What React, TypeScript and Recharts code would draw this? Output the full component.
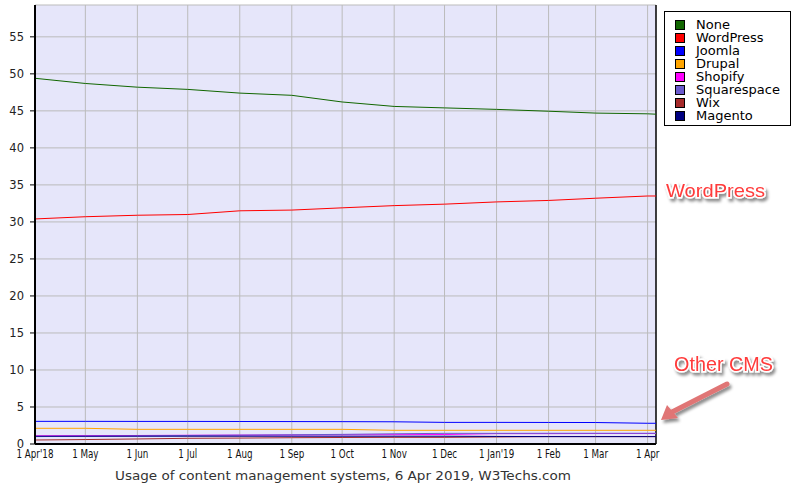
import React from 'react';
import { LineChart, Line, XAxis, YAxis, CartesianGrid, Legend, ReferenceLine } from 'recharts';

// days since 1 Apr 2018 (monthly samples + 6 Apr 2019)
const days = [0, 30, 61, 91, 122, 153, 183, 214, 244, 275, 306, 334, 365, 370];

const tickDays = [0, 30, 61, 91, 122, 153, 183, 214, 244, 275, 306, 334, 365];
const tickLabels = ["1 Apr'18", '1 May', '1 Jun', '1 Jul', '1 Aug', '1 Sep', '1 Oct', '1 Nov', '1 Dec', "1 Jan'19", '1 Feb', '1 Mar', '1 Apr'];
const yTicks = [0, 5, 10, 15, 20, 25, 30, 35, 40, 45, 50, 55];

const none = [49.4, 48.7, 48.2, 47.9, 47.4, 47.1, 46.2, 45.6, 45.4, 45.2, 44.95, 44.7, 44.6, 44.55];
const wordpress = [30.4, 30.7, 30.9, 31.0, 31.5, 31.6, 31.9, 32.2, 32.4, 32.7, 32.9, 33.2, 33.5, 33.5];
const joomla = [3.06, 3.06, 3.05, 3.05, 3.04, 3.03, 3.02, 3.0, 2.92, 2.92, 2.91, 2.9, 2.8, 2.8];
const drupal = [2.12, 2.12, 1.98, 1.98, 1.98, 1.98, 1.98, 1.85, 1.85, 1.85, 1.85, 1.85, 1.85, 1.85];
const shopify = [1.1, 1.12, 1.15, 1.18, 1.2, 1.22, 1.24, 1.26, 1.28, 1.4, 1.4, 1.42, 1.42, 1.42];
const squarespace = [1.0, 1.05, 1.1, 1.15, 1.2, 1.25, 1.3, 1.38, 1.44, 1.44, 1.45, 1.45, 1.45, 1.45];
const wix = [0.54, 0.6, 0.68, 0.77, 0.8, 0.85, 0.88, 0.9, 0.9, 0.95, 1.0, 1.0, 1.0, 1.0];
const magento = [1.05, 1.05, 1.05, 1.05, 1.05, 1.05, 1.05, 1.05, 1.05, 1.02, 1.0, 1.0, 1.0, 1.0];

const series = [
  { name: 'None', values: none, color: '#116600' },
  { name: 'WordPress', values: wordpress, color: '#ff0000' },
  { name: 'Joomla', values: joomla, color: '#0000ff' },
  { name: 'Drupal', values: drupal, color: '#ffa500' },
  { name: 'Shopify', values: shopify, color: '#ff00ff' },
  { name: 'Squarespace', values: squarespace, color: '#6a5acd' },
  { name: 'Wix', values: wix, color: '#a52a2a' },
  { name: 'Magento', values: magento, color: '#000080' },
];

const data = days.map((day, i) => {
  const row: Record<string, number> = { day };
  series.forEach((s) => {
    row[s.name] = s.values[i];
  });
  return row;
});

const font = '"DejaVu Sans", Verdana, sans-serif';

const XTick = (props: any) => {
  const { x, y, payload } = props;
  const idx = tickDays.indexOf(payload.value);
  return (
    <g transform={`translate(${x},${y}) scale(0.7,1)`}>
      <text x={0} y={3} dy="0.71em" textAnchor="middle" fontSize={12.5} fontFamily={font} fill="#111">
        {tickLabels[idx]}
      </text>
    </g>
  );
};

// vertical grid lines at the month ticks, through the x axis scale
const verticalAtTicks = (props: any) => {
  const scale = props?.xAxis?.scale;
  if (typeof scale === 'function') return tickDays.map((d) => scale(d));
  if (scale && typeof scale.map === 'function') return tickDays.map((d) => scale.map(d));
  return [];
};

const LegendBox = () => (
  <div
    style={{
      boxSizing: 'border-box',
      width: 127,
      height: 115,
      border: '1px solid #000',
      background: '#fff',
      padding: '6px 0 0 10px',
      fontFamily: font,
      fontSize: 13,
      color: '#000',
    }}
  >
    {series.map((s) => (
      <div key={s.name} style={{ display: 'flex', alignItems: 'center', height: 13 }}>
        <span
          style={{
            boxSizing: 'border-box',
            width: 10,
            height: 10,
            border: '1px solid #000',
            background: s.color,
            marginRight: 11,
          }}
        />
        <span style={{ lineHeight: '13px' }}>{s.name}</span>
      </div>
    ))}
  </div>
);

const App = () => {
  return (
    <div style={{ position: 'absolute', left: 0, top: 0, width: 803, height: 490, background: '#fff' }}>
      <LineChart width={803} height={490} data={data} margin={{ top: 5, right: 147, bottom: 26, left: 0 }}>
        <CartesianGrid
          stroke="#bbbbbb"
          strokeWidth={1}
          fill="#e6e6fa"
          fillOpacity={1}
          verticalCoordinatesGenerator={verticalAtTicks}
        />
        <XAxis
          dataKey="day"
          type="number"
          domain={[0, 370]}
          ticks={tickDays}
          tick={<XTick />}
          tickLine={false}
          tickSize={0}
          height={20}
          axisLine={{ stroke: '#000', strokeWidth: 2 }}
          interval={0}
        />
        <YAxis
          type="number"
          domain={[0, 59.3]}
          ticks={yTicks}
          width={35}
          tickSize={5}
          tickMargin={6}
          interval={0}
          axisLine={{ stroke: '#000', strokeWidth: 2 }}
          tickLine={{ stroke: '#000' }}
          tick={{ fontSize: 11.5, fontFamily: font, fill: '#222' }}
        />
        <ReferenceLine x={370} stroke="#000" strokeWidth={1.5} />
        {series.map((s) => (
          <Line
            key={s.name}
            type="linear"
            dataKey={s.name}
            stroke={s.color}
            strokeWidth={1}
            dot={false}
            isAnimationActive={false}
          />
        ))}
        <Legend
          layout="vertical"
          align="center"
          verticalAlign="middle"
          content={<LegendBox />}
          wrapperStyle={{ left: 664, top: 11, width: 127, height: 115 }}
        />
      </LineChart>
      <svg
        width={803}
        height={490}
        style={{ position: 'absolute', left: 0, top: 0, pointerEvents: 'none' }}
      >
        <defs>
          <filter id="shadow" x="-20%" y="-40%" width="140%" height="180%">
            <feDropShadow dx="2" dy="3" stdDeviation="1.5" floodColor="#000" floodOpacity="0.45" />
          </filter>
        </defs>
        <text
          x={343}
          y={480}
          textAnchor="middle"
          fontFamily={font}
          fontSize={13}
          fill="#333"
          textLength={456}
          lengthAdjust="spacingAndGlyphs"
        >
          Usage of content management systems, 6 Apr 2019, W3Techs.com
        </text>
        <g filter="url(#shadow)" fontFamily='"Liberation Sans", Arial, sans-serif'>
          <text
            x={666}
            y={197}
            fontSize={19}
            fill="#ff3b3b"
            stroke="#fff"
            strokeWidth={3}
            paintOrder="stroke"
            textLength={99}
            lengthAdjust="spacingAndGlyphs"
          >
            WordPress
          </text>
          <text
            x={674}
            y={371}
            fontSize={20}
            fill="#ff3b3b"
            stroke="#fff"
            strokeWidth={3}
            paintOrder="stroke"
            textLength={99}
            lengthAdjust="spacingAndGlyphs"
          >
            Other CMS
          </text>
          <line x1={727} y1={384} x2={672} y2={412} stroke="#e07575" strokeWidth={5} strokeLinecap="round" />
          <polygon points="661,420 667,405 678,418" fill="#e07575" />
        </g>
      </svg>
    </div>
  );
};

export default App;
